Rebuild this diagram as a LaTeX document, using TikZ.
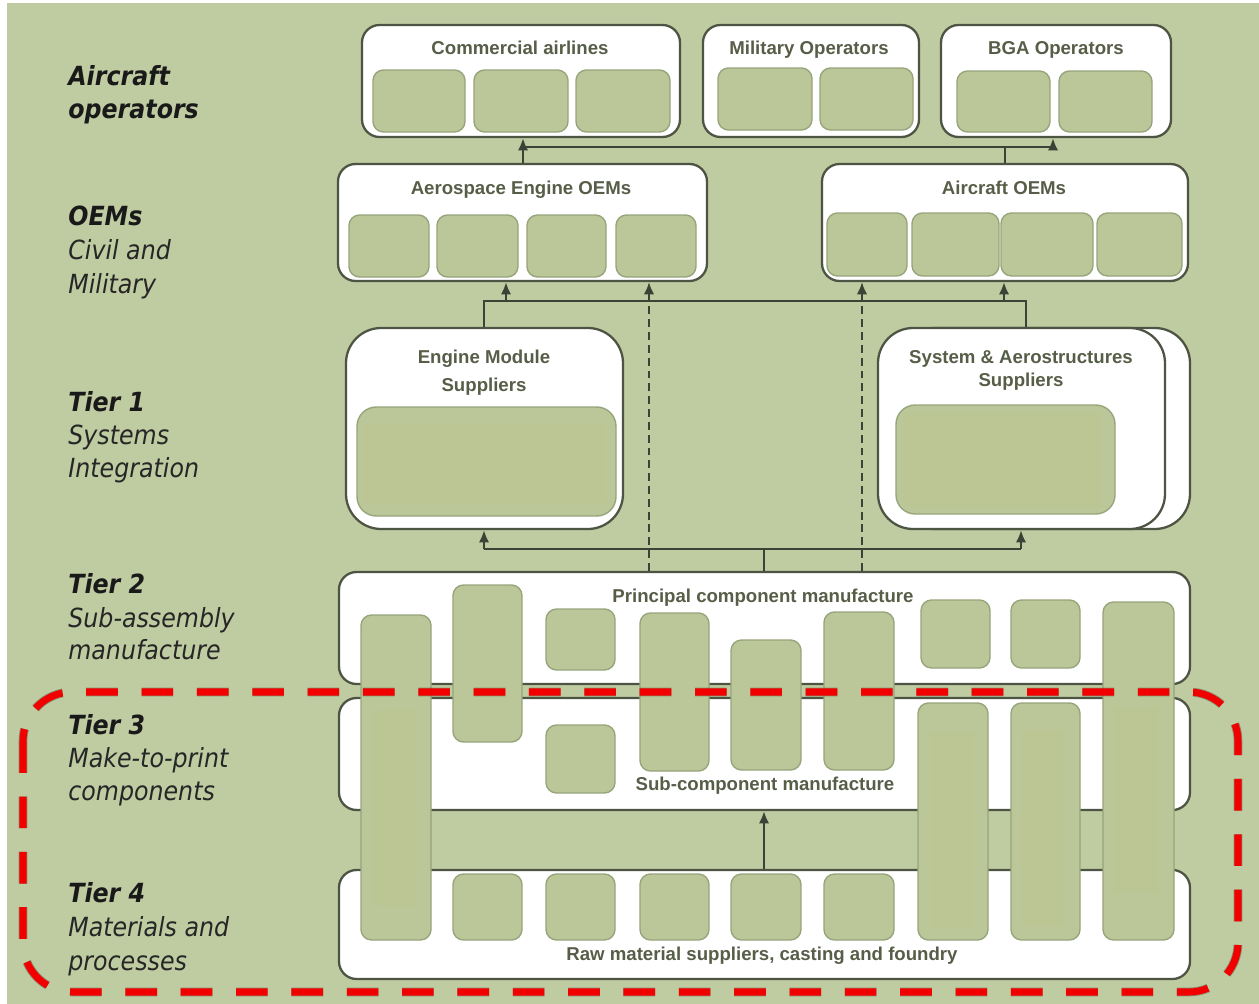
\documentclass[tikz,border=0pt]{standalone}
\usepackage{fontspec}
\setmainfont{Liberation Sans}
\newfontfamily\boxfont{Liberation Sans}
\newfontfamily\lblfont{DejaVu Sans}[FakeStretch=0.9, ItalicFont={DejaVu Sans Oblique}, BoldFont={DejaVu Sans Bold}, BoldItalicFont={DejaVu Sans Bold Oblique}]
\usetikzlibrary{arrows.meta,fit}
\definecolor{bg}{HTML}{BFCBA1}
\definecolor{ifill}{HTML}{BBC799}
\definecolor{iline}{HTML}{97A57C}
\definecolor{oline}{HTML}{4E5443}
\definecolor{tcol}{HTML}{575E48}
\definecolor{conncol}{HTML}{3B4236}
\definecolor{ilight}{HTML}{BCC594}
\definecolor{redframe}{HTML}{F20000}
\tikzset{
  outer/.style={draw=oline, line width=1.3pt, fill=white, rounded corners=10pt, inner sep=0pt},
  tierone/.style={outer, rounded corners=20pt},
  inner/.style={draw=iline, line width=0.8pt, fill=ifill, rounded corners=6pt, inner sep=0pt},
  innerbig/.style={inner, rounded corners=11pt},
  shadebox/.style={fill=ilight, draw=none, inner sep=0pt},
  boxtext/.style={anchor=base, text=tcol, font=\boxfont\bfseries\fontsize{10.6}{12}\selectfont, inner sep=0pt},
  lblB/.style={anchor=base west, text=black!90, font=\lblfont\bfseries\itshape\fontsize{15}{18}\selectfont, inner sep=0pt},
  lblI/.style={anchor=base west, text=black!85, font=\lblfont\itshape\fontsize{15}{18}\selectfont, inner sep=0pt},
  conn/.style={draw=conncol, line width=1.4pt},
  arr/.style={conn, -{Latex[length=7pt,width=6pt]}},
  dasharr/.style={arr, line width=1.1pt, dash pattern=on 4.5pt off 2.8pt},
}
\newcommand\bx[6]{\node[#6, fit={(#2,#3) (#4,#5)}] (#1) {};}
\begin{document}
\begin{tikzpicture}[x=0.02cm, y=-0.02cm]
\useasboundingbox (0,0) rectangle (1259,1004);
\fill[white] (0,0) rectangle (1259,1004);
\fill[bg] (7,3) rectangle (1259,1004);

% ---- Aircraft operators
\bx{comm}{362}{25}{680}{137}{outer}
\bx{mil}{703}{25}{919}{137}{outer}
\bx{bga}{941}{25}{1171}{137}{outer}
\bx{c1}{373}{70}{465}{132}{inner}
\bx{c2}{474}{70}{568}{132}{inner}
\bx{c3}{576}{70}{670}{132}{inner}
\bx{m1}{718}{68}{812}{130}{inner}
\bx{m2}{820}{68}{913}{130}{inner}
\bx{b1}{957}{71}{1050}{132}{inner}
\bx{b2}{1059}{71}{1152}{132}{inner}

% ---- OEMs
\bx{aeo}{338}{164}{707}{281}{outer}
\bx{acoem}{822}{164}{1188}{281}{outer}
\bx{a1}{349}{215}{429}{277}{inner}
\bx{a2}{437}{215}{518}{277}{inner}
\bx{a3}{527}{215}{606}{277}{inner}
\bx{a4}{616}{215}{696}{277}{inner}
\bx{o1}{827}{213}{907}{276}{inner}
\bx{o2}{912}{213}{999}{276}{inner}
\bx{o3}{1001}{213}{1093}{276}{inner}
\bx{o4}{1097}{213}{1182}{276}{inner}

% ---- Tier 1
\bx{ems}{346}{328}{623}{529}{tierone}
\bx{sasback}{900}{328}{1190}{529}{tierone}
\bx{sas}{878}{328}{1165}{529}{tierone}
\bx{emsi}{357}{407}{616}{516}{innerbig}
\bx{sasi}{896}{405}{1115}{514}{innerbig}
\bx{emsh}{363}{424}{606}{503}{shadebox}
\bx{sash}{904}{412}{1099}{507}{shadebox}

% ---- Tier 2-4 bands
\bx{t2}{339}{572}{1190}{684}{outer}
\bx{t3}{339}{698}{1190}{810}{outer}
\bx{t4}{339}{870}{1190}{979}{outer}

% ---- component bars
\bx{p1}{361}{615}{431}{940}{inner}
\bx{p2}{453}{585}{522}{742}{inner}
\bx{p3}{546}{609}{615}{670}{inner}
\bx{p4}{640}{613}{709}{771}{inner}
\bx{p5}{731}{640}{801}{770}{inner}
\bx{p6}{824}{612}{894}{770}{inner}
\bx{p7}{921}{600}{990}{668}{inner}
\bx{p8}{1011}{600}{1080}{668}{inner}
\bx{p9}{1103}{602}{1174}{940}{inner}
\bx{s1}{546}{725}{615}{793}{inner}
\bx{s2}{918}{703}{988}{940}{inner}
\bx{s3}{1011}{703}{1080}{940}{inner}
\bx{r1}{453}{874}{522}{940}{inner}
\bx{r2}{546}{874}{615}{940}{inner}
\bx{r3}{640}{874}{709}{940}{inner}
\bx{r4}{731}{874}{801}{940}{inner}
\bx{r5}{824}{874}{894}{940}{inner}
\bx{p1h}{373}{710}{416}{906}{shadebox}
\bx{s2h}{930}{732}{974}{928}{shadebox}
\bx{s3h}{1022}{730}{1065}{926}{shadebox}
\bx{p9h}{1114}{707}{1158}{893}{shadebox}

% ---- box texts
\node[boxtext] (tcomm) at (520,54) {Commercial airlines};
\node[boxtext] (tmil) at (809,54) {Military Operators};
\node[boxtext] (tbga) at (1056,54) {BGA Operators};
\node[boxtext] (taeo) at (521,194) {Aerospace Engine OEMs};
\node[boxtext] (tacoem) at (1004,194) {Aircraft OEMs};
\node[boxtext] (tems1) at (484,363) {Engine Module};
\node[boxtext] (tems2) at (484,391) {Suppliers};
\node[boxtext] (tsas1) at (1021,363) {System \& Aerostructures};
\node[boxtext] (tsas2) at (1021,386) {Suppliers};
\node[boxtext] (tt2) at (763,602) {Principal component manufacture};
\node[boxtext] (tt3) at (765,790) {Sub-component manufacture};
\node[boxtext] (tt4) at (762,960) {Raw material suppliers, casting and foundry};

% ---- left labels
\node[lblB] (l1a) at (68,85) {Aircraft};
\node[lblB] (l1b) at (68,118) {operators};
\node[lblB] (l2a) at (68,225) {OEMs};
\node[lblI] (l2b) at (68,259) {Civil and};
\node[lblI] (l2c) at (68,293) {Military};
\node[lblB] (l3a) at (68,411) {Tier 1};
\node[lblI] (l3b) at (68,444) {Systems};
\node[lblI] (l3c) at (68,477) {Integration};
\node[lblB] (l4a) at (68,593) {Tier 2};
\node[lblI] (l4b) at (68,627) {Sub-assembly};
\node[lblI] (l4c) at (68,659) {manufacture};
\node[lblB] (l5a) at (68,734) {Tier 3};
\node[lblI] (l5b) at (68,767) {Make-to-print};
\node[lblI] (l5c) at (68,800) {components};
\node[lblB] (l6a) at (68,902) {Tier 4};
\node[lblI] (l6b) at (68,936) {Materials and};
\node[lblI] (l6c) at (68,970) {processes};

% ---- connectors
\coordinate (j1) at (523,147);
\coordinate (j2) at (1053,147);
\coordinate (j3) at (1005,147);
\draw[conn] (aeo.north -| j1) -- (j1) -- (j2);
\draw[conn] (acoem.north -| j3) -- (j3);
\draw[arr] (j1) -- (comm.south -| j1);
\draw[arr] (j2) -- (bga.south -| j2);

\coordinate (k1) at (484,301);
\coordinate (k2) at (1026,301);
\coordinate (ka) at (506,301);
\coordinate (kb) at (1004,301);
\draw[conn] (ems.north -| k1) -- (k1) -- (k2) -- (sas.north -| k2);
\draw[arr] (ka) -- (aeo.south -| ka);
\draw[arr] (kb) -- (acoem.south -| kb);

\coordinate (d1) at (649,0);
\coordinate (d2) at (862,0);
\draw[dasharr] (t2.north -| d1) -- (aeo.south -| d1);
\draw[dasharr] (t2.north -| d2) -- (acoem.south -| d2);

\coordinate (n0) at (764,549);
\coordinate (n1) at (484,549);
\coordinate (n2) at (1021,549);
\draw[conn] (t2.north -| n0) -- (n0);
\draw[conn] (n1) -- (n2);
\draw[arr] (n1) -- (ems.south -| n1);
\draw[arr] (n2) -- (sas.south -| n2);
\draw[arr] (t4.north -| n0) -- (t3.south -| n0);

% ---- red dashed frame with shadow
\coordinate (rf1) at (23,692);
\coordinate (rf2) at (1238,992);
\draw[black, opacity=0.28, line width=5pt, dash pattern=on 18pt off 13.5pt, rounded corners=28pt, shift={(3,7)}] (rf1) rectangle (rf2);
\draw[redframe, line width=4pt, dash pattern=on 18pt off 13.5pt, rounded corners=28pt] (rf1) rectangle (rf2);
\end{tikzpicture}
\end{document}
